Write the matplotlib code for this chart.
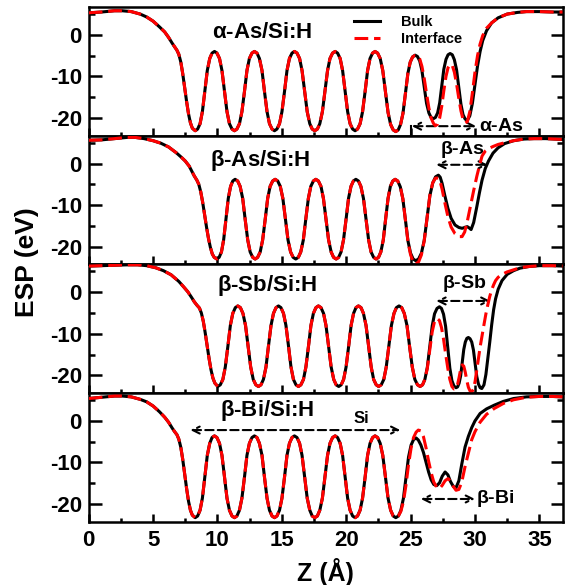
import matplotlib
matplotlib.use('Agg')
from matplotlib import pyplot as plt
from matplotlib.ticker import MultipleLocator

# ------------------------------------------------------------
# data: Z (Angstrom) and ESP (eV)
# the Si oscillations look the same in every period, so one
# rising and one falling half-period are read per panel and reused
# interface curve = bulk curve with its last points replaced by *_tail
# ------------------------------------------------------------

# panel 1 : alpha-As/Si:H
z_asA = [0.0, 1.0, 2.0, 2.6, 3.3, 4.0, 4.5, 5.0, 5.5, 5.9, 6.2, 6.5, 6.7, 6.85, 7.0, 7.15, 7.3, 7.45, 7.6, 7.75, 7.9, 8.05, 8.27,
         8.46, 8.65, 8.83, 9.02, 9.21, 9.40, 9.58, 9.77,
         9.96, 10.16, 10.35, 10.55, 10.74, 10.93, 11.13, 11.32,
         11.51, 11.71, 11.90, 12.10, 12.29, 12.48, 12.68, 12.87,
         13.07, 13.26, 13.46, 13.65, 13.85, 14.04, 14.24, 14.43,
         14.62, 14.82, 15.01, 15.21, 15.40, 15.59, 15.79, 15.98,
         16.18, 16.38, 16.57, 16.77, 16.97, 17.17, 17.36, 17.56,
         17.76, 17.95, 18.15, 18.35, 18.55, 18.74, 18.94, 19.14,
         19.33, 19.53, 19.72, 19.92, 20.11, 20.30, 20.50, 20.69,
         20.88, 21.08, 21.27, 21.47, 21.66, 21.85, 22.05, 22.24,
         22.44, 22.64, 22.84, 23.05, 23.25, 23.45, 23.65, 23.85,
         24.04, 24.22, 24.41, 24.60, 24.79, 24.97, 25.16, 25.35,
         25.53, 25.71, 25.88, 26.06, 26.24, 26.42, 26.59, 26.77,
         26.93, 27.10, 27.26, 27.42, 27.58, 27.75, 27.91, 28.07,
         28.24, 28.40, 28.57, 28.74, 28.91, 29.07, 29.24, 29.41,
         29.6, 29.8, 30.0, 30.2, 30.4, 30.6, 30.9, 31.3, 31.8, 32.5, 33.3, 34.0, 35.0, 36.0, 36.8]
asA_left = [5.3, 5.5, 5.8, 5.8, 5.6, 5.0, 4.3, 3.3, 1.9, 0.7, -0.6, -2.1, -3.0, -3.7, -4.7, -6.5, -9.3, -12.6,
            -16.0, -19.0, -21.2, -22.5, -23.1]
asA_up = [-22.7, -21.4, -18.5, -13.6, -8.6, -5.7, -4.4, -4.0]
asA_dn = [-4.4, -5.7, -8.6, -13.6, -18.5, -21.4, -22.7, -23.1]
asA_right = [-4.4, -5.7, -8.6, -13.7, -18.7, -21.6, -22.9, -23.3,
             -22.9, -21.6, -18.9, -14.1, -9.3, -6.6, -5.3, -4.9,
             -5.2, -6.3, -8.6, -12.6, -16.5, -18.8, -19.9, -20.2,
             -19.9, -18.8, -16.4, -12.4, -8.3, -5.9, -4.8, -4.5,
             -4.8, -6.0, -8.4, -12.6, -16.7, -19.2, -20.3, -20.6,
             -19.5, -16.5, -12.0, -7.5, -4.0, -1.4, 1.0, 2.9, 4.1, 5.0, 5.4, 5.6, 5.6, 5.5, 5.5]
asA_bulk = asA_left + (asA_up + asA_dn) * 4 + asA_up + asA_right
asA_tail = [-4.95, -5.0, -5.8, -7.6, -10.5, -14.2, -17.6, -20.0, -21.3,
            -21.9, -21.5, -20.0, -17.2, -13.5, -10.0, -7.9, -7.1,
            -7.4, -9.0, -11.8, -15.2, -18.3, -20.3, -21.2, -20.9,
            -18.5, -14.0, -9.0, -5.0, -2.2, -0.2, 1.6, 2.9, 4.1, 5.0, 5.4, 5.6, 5.6, 5.5, 5.5]

# panel 2 : beta-As/Si:H
z_asB = [0.0, 1.0, 2.0, 3.0, 3.6, 4.3, 5.0, 5.6, 6.2, 6.8, 7.2, 7.5, 7.8, 8.0, 8.2, 8.4, 8.55, 8.7, 8.85, 9.0,
         9.15, 9.3, 9.45, 9.6, 9.75, 9.95,
         10.13, 10.31, 10.48, 10.66, 10.84, 11.02, 11.19, 11.37,
         11.57, 11.76, 11.96, 12.15, 12.35, 12.54, 12.74, 12.93,
         13.12, 13.32, 13.51, 13.71, 13.90, 14.09, 14.29, 14.48,
         14.68, 14.88, 15.08, 15.28, 15.48, 15.68, 15.88, 16.08,
         16.28, 16.47, 16.67, 16.86, 17.06, 17.25, 17.45, 17.64,
         17.84, 18.04, 18.23, 18.43, 18.63, 18.83, 19.02, 19.22,
         19.41, 19.60, 19.79, 19.99, 20.18, 20.37, 20.56, 20.75,
         20.95, 21.14, 21.34, 21.54, 21.74, 21.93, 22.13, 22.32,
         22.51, 22.69, 22.88, 23.06, 23.25, 23.43, 23.62, 23.80,
         24.00, 24.20, 24.40, 24.60, 24.80, 25.00, 25.20, 25.40,
         25.62, 25.84, 26.06, 26.28, 26.50, 26.72, 26.94, 27.16,
         27.3, 27.45, 27.65, 27.9, 28.15, 28.45, 28.75, 29.0, 29.2, 29.4, 29.55, 29.7, 29.9,
         30.15, 30.35, 30.55, 30.8, 31.05, 31.4, 31.8, 32.3, 33.0, 33.8, 34.6, 35.5, 36.8]
asB_left = [5.6, 5.7, 6.0, 6.3, 6.3, 6.0, 5.5, 4.9, 4.0, 2.6, 1.5, 0.6, -0.6, -1.8, -3.0, -4.0, -5.0, -6.8, -9.3,
            -12.3, -15.3, -18.0, -20.2, -21.8, -22.6, -23.0]
asB_up = [-22.6, -21.3, -18.4, -13.4, -8.4, -5.5, -4.2, -3.8]
asB_dn = [-4.2, -5.5, -8.4, -13.4, -18.4, -21.3, -22.6, -23.0]
asB_right = [-4.2, -5.6, -8.5, -13.6, -18.7, -21.6, -23.0, -23.4,
             -23.0, -21.6, -18.5, -13.1, -7.7, -4.7, -3.2, -2.8,
             -3.3, -4.8, -7.6, -10.8, -13.2, -14.8, -15.4, -15.6, -15.4, -15.2, -15.5, -15.9, -14.2,
             -10.3, -7.0, -4.0, -1.2, 0.6, 2.5, 3.8, 4.8, 5.5, 5.9, 6.0, 6.0, 5.8]
asB_bulk = asB_left + (asB_up + asB_dn) * 4 + asB_up + asB_right
asB_tail = [-13.6, -18.9, -22.0, -23.7, -24.2,
            -23.7, -22.0, -18.6, -13.0, -7.6, -4.6, -3.5, -3.5,
            -4.4, -6.2, -9.3, -12.8, -15.3, -16.9, -17.6, -17.6, -16.5, -14.0, -11.8, -9.5, -6.5,
            -3.0, -0.5, 1.8, 3.0, 3.6, 4.1, 4.6, 5.0, 5.5, 5.9, 6.0, 6.0, 5.8]

# panel 3 : beta-Sb/Si:H
z_sbB = [0.0, 1.0, 2.0, 3.0, 3.8, 4.5, 5.2, 5.8, 6.4, 7.0, 7.4, 7.7, 8.0, 8.2, 8.4, 8.6, 8.75, 8.9, 9.05, 9.2,
         9.35, 9.5, 9.65, 9.8, 10.03,
         10.22, 10.42, 10.61, 10.81, 11.00, 11.19, 11.39, 11.58,
         11.78, 11.98, 12.18, 12.38, 12.58, 12.78, 12.98, 13.18,
         13.38, 13.57, 13.77, 13.96, 14.16, 14.35, 14.55, 14.74,
         14.93, 15.13, 15.32, 15.52, 15.71, 15.90, 16.10, 16.29,
         16.48, 16.68, 16.87, 17.07, 17.26, 17.45, 17.65, 17.84,
         18.04, 18.24, 18.43, 18.63, 18.83, 19.03, 19.22, 19.42,
         19.61, 19.80, 19.99, 20.19, 20.38, 20.57, 20.76, 20.95,
         21.15, 21.34, 21.54, 21.74, 21.94, 22.13, 22.33, 22.52,
         22.72, 22.92, 23.11, 23.31, 23.51, 23.71, 23.90, 24.10,
         24.31, 24.51, 24.72, 24.92, 25.13, 25.33, 25.54, 25.74,
         25.93, 26.11, 26.30, 26.49, 26.68, 26.86, 27.05, 27.24,
         27.40, 27.56, 27.72, 27.89, 28.05, 28.21, 28.37, 28.53,
         28.65, 28.77, 28.89, 29.01, 29.13, 29.25, 29.37, 29.49,
         29.62, 29.75, 29.88, 30.01, 30.14, 30.27, 30.40, 30.53,
         30.7, 30.85, 31.0, 31.15, 31.3, 31.45, 31.6, 31.8, 32.1, 32.5, 33.0, 33.5, 34.2, 35.0, 36.0, 36.8]
sbB_left = [6.3, 6.4, 6.5, 6.6, 6.6, 6.4, 5.9, 5.2, 4.2, 2.6, 1.2, 0.1, -1.3, -2.3, -3.1, -3.8, -5.0, -7.0, -9.8,
            -12.9, -16.0, -18.7, -20.7, -21.9, -22.7]
sbB_up = [-22.3, -21.0, -18.0, -13.0, -8.0, -5.1, -3.7, -3.3]
sbB_dn = [-3.7, -5.1, -8.0, -13.0, -18.0, -21.0, -22.3, -22.7]
sbB_right = [-22.3, -21.0, -18.1, -13.1, -8.1, -5.2, -3.9, -3.5,
             -3.9, -5.3, -8.2, -13.3, -18.3, -21.3, -22.6, -23.0,
             -22.8, -21.9, -20.1, -17.0, -13.8, -12.0, -11.1, -10.9,
             -11.2, -12.0, -13.9, -17.1, -20.3, -22.1, -23.0, -23.2,
             -22.3, -19.8, -16.0, -12.0, -7.8, -4.2, -1.6, 0.7, 2.8, 4.3, 5.2, 5.8, 6.2, 6.4, 6.4, 6.3]
sbB_bulk = sbB_left + (sbB_up + sbB_dn) * 5 + sbB_right
sbB_tail = [-22.3, -21.0, -18.3, -13.8, -9.5, -7.0, -6.3, -6.8,
            -8.5, -11.3, -14.8, -18.3, -21.0, -22.7, -23.3, -23.1,
            -22.2, -20.5, -18.5, -17.5, -17.8, -19.3, -21.3, -22.9,
            -23.8, -24.0, -23.4, -21.5, -18.8, -16.0, -13.2, -10.8,
            -7.8, -5.2, -3.0, -1.0, 0.6, 1.8, 2.8, 3.6, 4.3, 4.9, 5.4, 5.9, 6.2, 6.4, 6.4, 6.3]

# panel 4 : beta-Bi/Si:H
z_biB = z_asA[:103] + [24.05, 24.24, 24.44, 24.64, 24.84, 25.04, 25.23, 25.43,
                       25.6, 25.8, 26.0, 26.2, 26.4, 26.6, 26.8, 27.03, 27.25, 27.46,
                       27.68, 27.90, 28.10, 28.32, 28.53, 28.75, 28.97, 29.23, 29.49, 29.75,
                       30.0, 30.4, 30.9, 31.5, 32.2, 33.0, 34.0, 35.0, 36.0, 36.8]
biB_left = [5.4, 5.7, 6.0, 6.0, 5.8, 5.2, 4.6, 3.6, 2.2, 0.9, -0.3, -1.8, -2.7, -3.3, -4.4, -6.3, -9.2, -12.7,
            -16.2, -19.3, -21.5, -22.7, -23.3]
biB_up = [-22.9, -21.5, -18.6, -13.5, -8.3, -5.4, -4.0, -3.6]
biB_dn = [-4.0, -5.4, -8.3, -13.5, -18.6, -21.5, -22.9, -23.3]
biB_right = [-22.9, -21.6, -18.7, -13.7, -8.7, -5.8, -4.5, -4.1,
             -4.6, -5.8, -7.6, -9.9, -12.3, -14.2, -15.3, -15.6, -14.9, -13.3,
             -12.3, -13.0, -14.6, -15.8, -16.1, -14.4, -10.5, -6.3, -3.7, -1.6,
             0.0, 1.8, 2.9, 3.8, 4.7, 5.4, 5.8, 5.9, 5.9, 5.8]
biB_bulk = biB_left + (biB_up + biB_dn) * 5 + biB_right
biB_tail = [-21.8, -19.5, -15.5, -10.5, -6.5, -4.0, -2.7,
            -2.2, -2.4, -3.8, -6.5, -9.7, -12.5, -14.7, -16.0, -16.3, -15.5,
            -14.4, -13.9, -14.4, -15.8, -16.7, -16.5, -14.8, -11.0, -7.8, -4.5,
            -2.6, -0.3, 1.6, 3.0, 4.2, 5.1, 5.7, 5.9, 5.9, 5.8]

titles = [r'$\alpha$-As/Si:H', r'$\beta$-As/Si:H', r'$\beta$-Sb/Si:H', r'$\beta$-Bi/Si:H']
title_pos = [(9.6, 0.5), (9.45, 0.7), (10.0, 1.6), (10.2, 2.5)]

# dashed double arrows: (z_start, z_end, esp, label, label_z, label_esp, label_ha)
arrows = [
    [(25.1, 30.1, -22.0, r'$\alpha$-As', 30.3, -22.0, 'left')],
    [(27.0, 31.0, -0.3, r'$\beta$-As', 29.0, 3.3, 'center')],
    [(27.0, 31.2, -2.1, r'$\beta$-Sb', 29.2, 2.1, 'center')],
    [(7.9, 24.2, -2.2, 'Si', 21.2, 0.7, 'center'),
     (25.8, 30.0, -18.8, r'$\beta$-Bi', 30.1, -18.8, 'left')],
]

plt.rcParams['font.family'] = 'Liberation Sans'
plt.rcParams['font.weight'] = 'bold'
plt.rcParams['axes.labelweight'] = 'bold'
plt.rcParams['axes.unicode_minus'] = False
plt.rcParams['mathtext.fontset'] = 'custom'
plt.rcParams['mathtext.rm'] = 'Liberation Sans'
plt.rcParams['mathtext.it'] = 'Liberation Sans'
plt.rcParams['mathtext.bf'] = 'Liberation Sans:bold'

fig, axes = plt.subplots(4, 1, sharex=True, figsize=(5.65, 5.85), dpi=100)
fig.subplots_adjust(left=0.157, right=0.9956, top=0.988, bottom=0.108, hspace=0)

panels = [(z_asA, asA_bulk, asA_tail), (z_asB, asB_bulk, asB_tail),
          (z_sbB, sbB_bulk, sbB_tail), (z_biB, biB_bulk, biB_tail)]

for i, ax in enumerate(axes):
    z, bulk, tail = panels[i]
    intf = bulk[:len(bulk) - len(tail)] + tail
    ax.plot(z, bulk, color='black', lw=2.2, label='Bulk', zorder=3)
    ax.plot(z, intf, color='red', lw=2.2, dashes=(4.5, 1.9), label='Interface', zorder=4)

    ax.set_xlim(0, 36.8)
    ax.set_ylim(-24.3, 6.7)
    ax.xaxis.set_major_locator(MultipleLocator(5))
    ax.xaxis.set_minor_locator(MultipleLocator(2.5))
    ax.yaxis.set_major_locator(MultipleLocator(10))
    ax.yaxis.set_minor_locator(MultipleLocator(5))
    ax.tick_params(axis='y', which='major', direction='in', length=9, width=1.8,
                   left=True, right=True, labelsize=16, pad=5)
    ax.tick_params(axis='y', which='minor', direction='in', length=4.5, width=1.8,
                   left=True, right=True)
    ax.tick_params(axis='x', which='major', direction='in', length=6, width=1.8,
                   top=False, labelsize=16, pad=6)
    ax.tick_params(axis='x', which='minor', direction='in', length=3, width=1.8, top=False)
    for sp in ax.spines.values():
        sp.set_linewidth(1.8)

    tx, ty = title_pos[i]
    ax.text(tx, ty, titles[i], fontsize=16, ha='left', va='center')

    for (z0, z1, yv, lab, lx, ly, lha) in arrows[i]:
        ax.annotate('', xy=(z1, yv), xytext=(z0, yv),
                    arrowprops=dict(arrowstyle='<->,head_length=0.5,head_width=0.25',
                                    lw=1.5, linestyle=(0, (4, 2)), color='black',
                                    shrinkA=0, shrinkB=0))
        ax.text(lx, ly, lab, fontsize=14 if lab != 'Si' else 12, ha=lha, va='center')

# small vertical mark at the start of the alpha-As arrow
axes[0].plot([25.05, 25.05], [-22.0, -24.3], color='black', lw=1.5)

axes[0].legend(loc='center left', bbox_to_anchor=(0.56, 0.814), frameon=False,
               fontsize=10.5, handlelength=1.8, handletextpad=1.4,
               labelspacing=0.2, borderpad=0, borderaxespad=0)

fig.text(27 / 565, 1 - 262 / 585, 'ESP (eV)', rotation=90, fontsize=19,
         ha='center', va='center')
fig.text(325.5 / 565, 1 - 572 / 585, 'Z (Å)', fontsize=18, ha='center', va='center')

fig.savefig('out.png', dpi=100)
